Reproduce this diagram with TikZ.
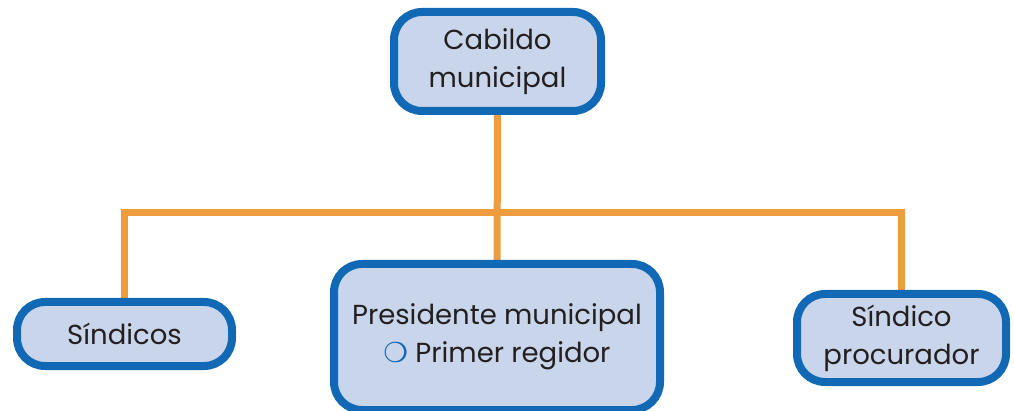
\documentclass[tikz,border=0pt]{standalone}
\usepackage{fontspec}
\setmainfont{Poppins}
\newfontfamily\symfont{DejaVu Sans}
\usetikzlibrary{backgrounds}

\definecolor{cajaazul}{HTML}{C9D5EB}
\definecolor{bordeazul}{HTML}{1168B4}
\definecolor{lineanaranja}{HTML}{EE9C3E}
\definecolor{textogris}{HTML}{231F20}

\tikzset{
  caja/.style={draw=bordeazul, fill=cajaazul, line width=8pt, rounded corners=28pt,
    align=center, text=textogris, font=\fontsize{27.5}{38}\selectfont, inner sep=0pt},
  rama/.style={draw=lineanaranja, line width=7pt}
}

\begin{document}
\begin{tikzpicture}[x=1pt, y=-1pt]
		%%%%% marco %%%%%
		\useasboundingbox (0, 0) rectangle (1014, 411);
		
		%%%%% cajas %%%%%
		\node[caja, minimum width=207pt, minimum height=99pt] (cabildo) at (497.5, 61.5) {Cabildo\\municipal};
		\node[caja, minimum width=215pt, minimum height=64pt] (sindicos) at (124.5, 334) {Síndicos};
		\node[caja, minimum width=326pt, minimum height=146pt] (presidente) at (497, 337) {Presidente municipal\\{\symfont\color{bordeazul}❍} Primer regidor};
		\node[caja, minimum width=209pt, minimum height=88pt] (procurador) at (901.5, 338) {Síndico\\procurador};
		
		%%%%% ramas %%%%%
		\coordinate (junta) at (497, 213);
		\begin{scope}[on background layer]
			\draw[rama] (cabildo) -- (presidente);
			\draw[rama] (sindicos.north) |- (junta) -| (procurador.north);
		\end{scope}
\end{tikzpicture}
\end{document}
